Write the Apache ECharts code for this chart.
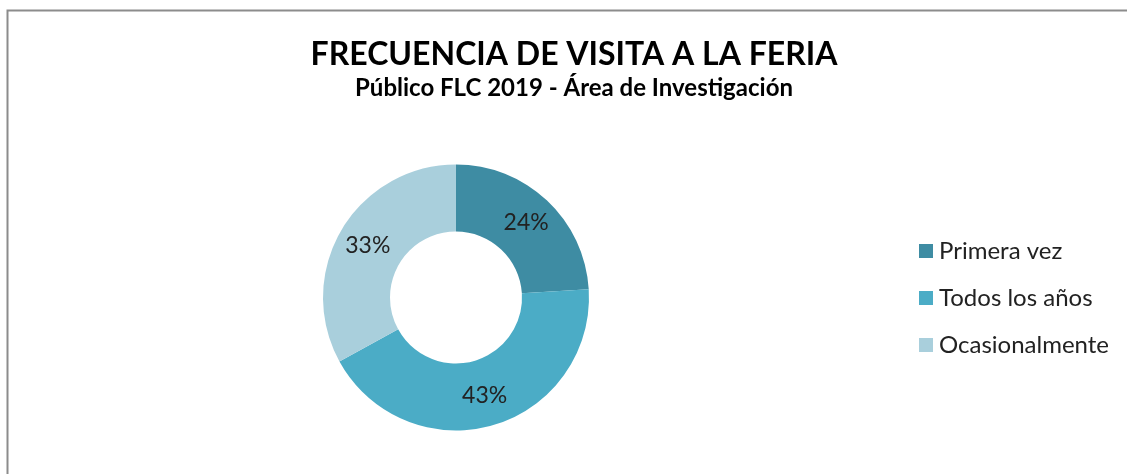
<!DOCTYPE html>
<html><head><meta charset="utf-8">
<script src="https://cdn.jsdelivr.net/npm/echarts@6/dist/echarts.min.js"></script>
<style>html,body{margin:0;padding:0;background:#fff}#c{width:1127px;height:474px}</style>
</head><body><div id="c"></div>
<script>
const categories = ['Primera vez', 'Todos los años', 'Ocasionalmente'];
const values = [24, 43, 33];
const colors = ['#3E8CA3', '#4BACC6', '#A9CFDC'];
const titleText = 'FRECUENCIA DE VISITA A LA FERIA';
const subtitleText = 'Público FLC 2019 - Área de Investigación';

const chart = echarts.init(document.getElementById('c'), null, {renderer: 'canvas'});
chart.setOption({
  animation: false,
  backgroundColor: '#fff',
  graphic: [{
    type: 'rect', shape: {x: 7.5, y: 10.5, width: 1130, height: 480},
    style: {fill: 'none', stroke: '#8c8c8c', lineWidth: 2}, z: 0
  }],
  title: {
    text: titleText, subtext: subtitleText,
    left: 569, top: 34, textAlign: 'center', itemGap: 5,
    textStyle: {fontFamily: 'Lato', fontWeight: 'bold', fontSize: 32, color: '#000'},
    subtextStyle: {fontFamily: 'Lato', fontWeight: 'bold', fontSize: 24, color: '#000'}
  },
  legend: {
    orient: 'vertical', left: 914, top: 234,
    icon: 'rect', itemWidth: 14, itemHeight: 14, itemGap: 23,
    textStyle: {fontFamily: 'Lato', fontSize: 24, lineHeight: 22, color: '#222', padding: [0, 0, 0, 1]},
    data: categories
  },
  series: [{
    type: 'pie', center: [456, 297.5], radius: [66, 133],
    startAngle: 90, clockwise: true,
    label: {show: true, position: 'inside', formatter: '{c}%', fontFamily: 'Lato', fontSize: 23, color: '#222'},
    labelLine: {show: false},
    itemStyle: {borderWidth: 0},
    emphasis: {disabled: true},
    data: categories.map((n, i) => ({name: n, value: values[i], itemStyle: {color: colors[i]}}))
  }]
});
</script></body></html>
